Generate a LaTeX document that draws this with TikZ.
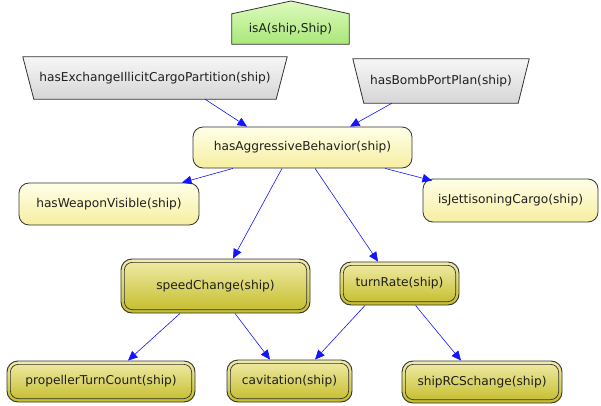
\documentclass[tikz,border=0pt]{standalone}
\usepackage{fontspec}
\setmainfont{DejaVu Sans}
\usetikzlibrary{arrows.meta}
\pgfdeclarelayer{background}
\pgfsetlayers{background,main}
\definecolor{edgeblue}{RGB}{20,20,255}
\definecolor{yelTop}{RGB}{255,255,232}
\definecolor{yelBot}{RGB}{246,238,160}
\definecolor{oliTop}{RGB}{240,236,170}
\definecolor{oliBot}{RGB}{196,188,40}
\definecolor{grnTop}{RGB}{222,250,190}
\definecolor{grnBot}{RGB}{168,232,120}
\definecolor{gryTop}{RGB}{246,246,246}
\definecolor{gryBot}{RGB}{214,214,214}
\definecolor{border}{RGB}{50,50,50}
\tikzset{
  lbl/.style={font=\fontsize{12.2}{14}\selectfont, text=black!88, inner sep=0pt},
  yelnode/.style={lbl, draw=border, line width=0.8pt, rounded corners=10pt, top color=yelTop, bottom color=yelBot},
  olinode/.style={lbl, draw=border, line width=0.9pt, rounded corners=11pt, top color=oliTop, bottom color=oliBot},
  inner/.style={draw=border, line width=0.7pt, rounded corners=8pt},
  plain/.style={lbl},
  shapeline/.style={draw=border, line width=0.8pt},
  edge/.style={draw=edgeblue, line width=0.6pt, -{Triangle[length=9.5pt,width=8.5pt]}}
}
\begin{document}
\begin{tikzpicture}[x=1pt,y=-1pt]
\useasboundingbox (0,0) rectangle (601,406);
% top row
\node[plain, minimum width=117, minimum height=30] (isa) at (290.5,29) {isA(ship,Ship)};
\node[plain, minimum width=264, minimum height=42] (ex) at (155,78) {hasExchangeIllicitCargoPartition(ship)};
\node[plain, minimum width=176, minimum height=44] (bomb) at (441,81) {hasBombPortPlan(ship)};
\coordinate (peak) at (291,1);
\begin{pgfonlayer}{background}
  \shade[top color=grnTop, bottom color=grnBot] (isa.north west) -- (peak) -- (isa.north east) -- (isa.south east) -- (isa.south west) -- cycle;
  \draw[shapeline] (isa.north west) -- (peak) -- (isa.north east) -- (isa.south east) -- (isa.south west) -- cycle;
  \shade[top color=gryTop, bottom color=gryBot] (ex.north west) -- (ex.north east) -- ([xshift=-11pt]ex.south east) -- ([xshift=11pt]ex.south west) -- cycle;
  \draw[shapeline] (ex.north west) -- (ex.north east) -- ([xshift=-11pt]ex.south east) -- ([xshift=11pt]ex.south west) -- cycle;
  \shade[top color=gryTop, bottom color=gryBot] (bomb.north west) -- (bomb.north east) -- ([xshift=-11pt]bomb.south east) -- ([xshift=11pt]bomb.south west) -- cycle;
  \draw[shapeline] (bomb.north west) -- (bomb.north east) -- ([xshift=-11pt]bomb.south east) -- ([xshift=11pt]bomb.south west) -- cycle;
\end{pgfonlayer}
% yellow nodes
\node[yelnode, minimum width=219, minimum height=41] (agg) at (302.5,147.5) {hasAggressiveBehavior(ship)};
\node[yelnode, minimum width=180, minimum height=42] (weap) at (109,204) {hasWeaponVisible(ship)};
\node[yelnode, minimum width=175, minimum height=43] (jett) at (510.5,200.5) {isJettisoningCargo(ship)};
% olive nodes
\node[olinode, minimum width=189, minimum height=54] (speed) at (215.5,286) {speedChange(ship)};
\node[olinode, minimum width=119, minimum height=43] (turn) at (399.5,283.5) {turnRate(ship)};
\node[olinode, minimum width=188, minimum height=41] (prop) at (101,381.5) {propellerTurnCount(ship)};
\node[olinode, minimum width=125, minimum height=42] (cav) at (289.5,381) {cavitation(ship)};
\node[olinode, minimum width=160, minimum height=42] (rcs) at (482,382) {shipRCSchange(ship)};
\foreach \n in {speed,turn,prop,cav,rcs}{
  \draw[inner] ([xshift=3.8pt,yshift=3.8pt]\n.south west) rectangle ([xshift=-3.8pt,yshift=-3.8pt]\n.north east);
}
% edges
\draw[edge] ([xshift=50pt]ex.south) -- ([xshift=-55.5pt]agg.north);
\draw[edge] ([xshift=-49pt]bomb.south) -- ([xshift=47.5pt]agg.north);
\draw[edge] ([xshift=-69.5pt]agg.south) -- ([xshift=73pt]weap.north);
\draw[edge] ([xshift=82.5pt]agg.south) -- ([xshift=-78.5pt,yshift=-2pt]jett.north);
\draw[edge] ([xshift=-20.5pt]agg.south) -- ([xshift=17.5pt]speed.north);
\draw[edge] ([xshift=12.5pt]agg.south) -- ([xshift=-21.5pt]turn.north);
\draw[edge] ([xshift=-35.5pt]speed.south) -- ([xshift=27pt]prop.north);
\draw[edge] ([xshift=19.5pt]speed.south) -- ([xshift=-19.5pt]cav.north);
\draw[edge] ([xshift=-34.5pt]turn.south) -- ([xshift=25.5pt]cav.north);
\draw[edge] ([xshift=16pt]turn.south) -- ([xshift=-21pt]rcs.north);
\end{tikzpicture}
\end{document}
